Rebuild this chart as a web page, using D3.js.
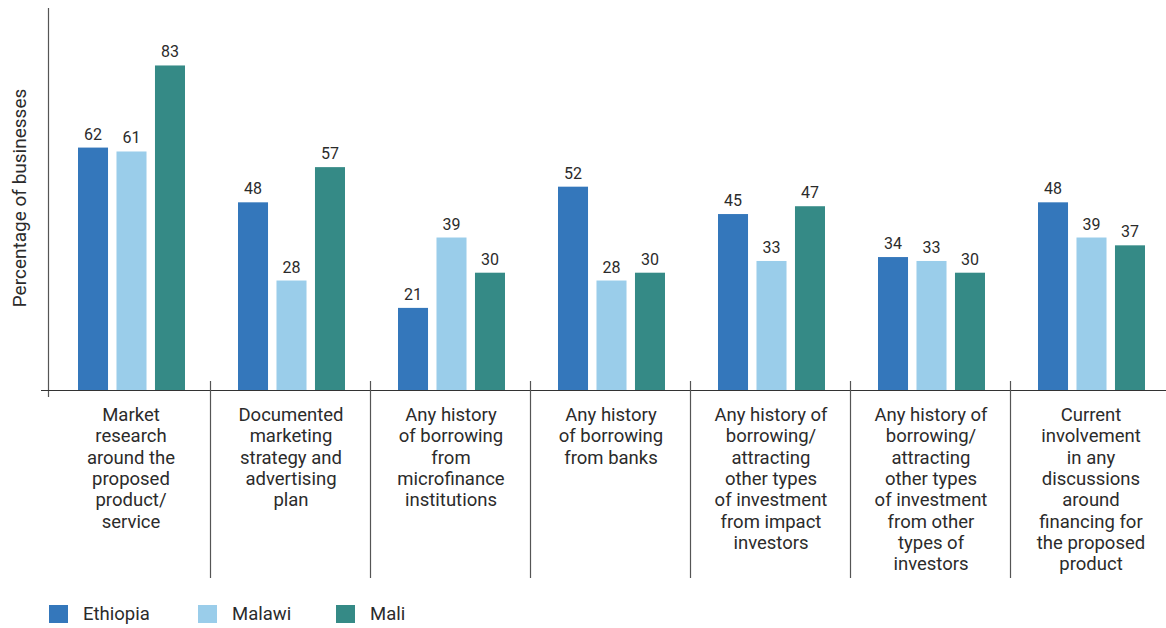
<!DOCTYPE html>
<html><head><meta charset="utf-8">
<script src="https://cdn.jsdelivr.net/npm/d3@7"></script>
<style>body{margin:0;background:#fff}svg{display:block}text{font-family:Roboto,"Noto Sans",sans-serif;fill:#2b2b2b}</style>
</head><body><svg id="c" width="1166" height="628"></svg>
<script>
const categories = [
  ["Market","research","around the","proposed","product/","service"],
  ["Documented","marketing","strategy and","advertising","plan"],
  ["Any history","of borrowing","from","microfinance","institutions"],
  ["Any history","of borrowing","from banks"],
  ["Any history of","borrowing/","attracting","other types","of investment","from impact","investors"],
  ["Any history of","borrowing/","attracting","other types","of investment","from other","types of","investors"],
  ["Current","involvement","in any","discussions","around","financing for","the proposed","product"]
];
const seriesNames = ["Ethiopia","Malawi","Mali"];
const ethiopia = [62,48,21,52,45,34,48];
const malawi   = [61,28,39,28,33,33,39];
const mali     = [83,57,30,30,47,30,37];
const colors = ["#3477bb","#9acdea","#358a86"];
const yTitle = "Percentage of businesses";

const values = [ethiopia, malawi, mali];
const svg = d3.select("#c");
const idx = d3.range(categories.length);
const x0 = d3.scaleBand().domain(idx).range([51, 1171]).paddingInner(0);
const x1 = d3.scaleBand().domain(seriesNames).range([27, 134]).paddingInner(0.22);
const y = d3.scaleLinear().domain([0, 100]).range([390, -1]);

// bars
const g = svg.append("g");
idx.forEach(i => {
  seriesNames.forEach((s, k) => {
    const v = values[k][i];
    g.append("rect")
      .attr("x", x0(i) + x1(s)).attr("width", x1.bandwidth())
      .attr("y", y(v)).attr("height", y(0) - y(v))
      .attr("fill", colors[k]);
    g.append("text")
      .attr("x", x0(i) + x1(s) + x1.bandwidth()/2)
      .attr("y", y(v) - 8)
      .attr("text-anchor", "middle")
      .attr("font-size", 16)
      .text(v);
  });
});

// axes
svg.append("line").attr("x1", 48.5).attr("x2", 48.5).attr("y1", 8).attr("y2", 397).attr("stroke", "#555").attr("stroke-width", 1.2);
svg.append("line").attr("x1", 41).attr("x2", 1166).attr("y1", y(0)+0.5).attr("y2", y(0)+0.5).attr("stroke", "#333").attr("stroke-width", 1.2);
idx.slice(1).forEach(i => {
  svg.append("line").attr("x1", x0(i)-0.5).attr("x2", x0(i)-0.5).attr("y1", 381).attr("y2", 578).attr("stroke", "#555").attr("stroke-width", 1.2);
});

// category labels
idx.forEach(i => {
  const cx = x0(i) + x0.bandwidth()/2;
  categories[i].forEach((line, j) => {
    svg.append("text").attr("text-anchor", "middle").attr("font-size", 18.5)
      .attr("x", cx).attr("y", 421 + j * 21.3).text(line);
  });
});

// y title
svg.append("text").attr("transform", "translate(26,198) rotate(-90)").attr("text-anchor", "middle")
  .attr("font-size", 19).text(yTitle);

// legend
const legX = [49, 198, 336];
seriesNames.forEach((s, k) => {
  svg.append("rect").attr("x", legX[k]).attr("y", 605).attr("width", 19).attr("height", 18).attr("fill", colors[k]);
  svg.append("text").attr("x", legX[k] + 34).attr("y", 620).attr("font-size", 18.5).text(s);
});
</script></body></html>
